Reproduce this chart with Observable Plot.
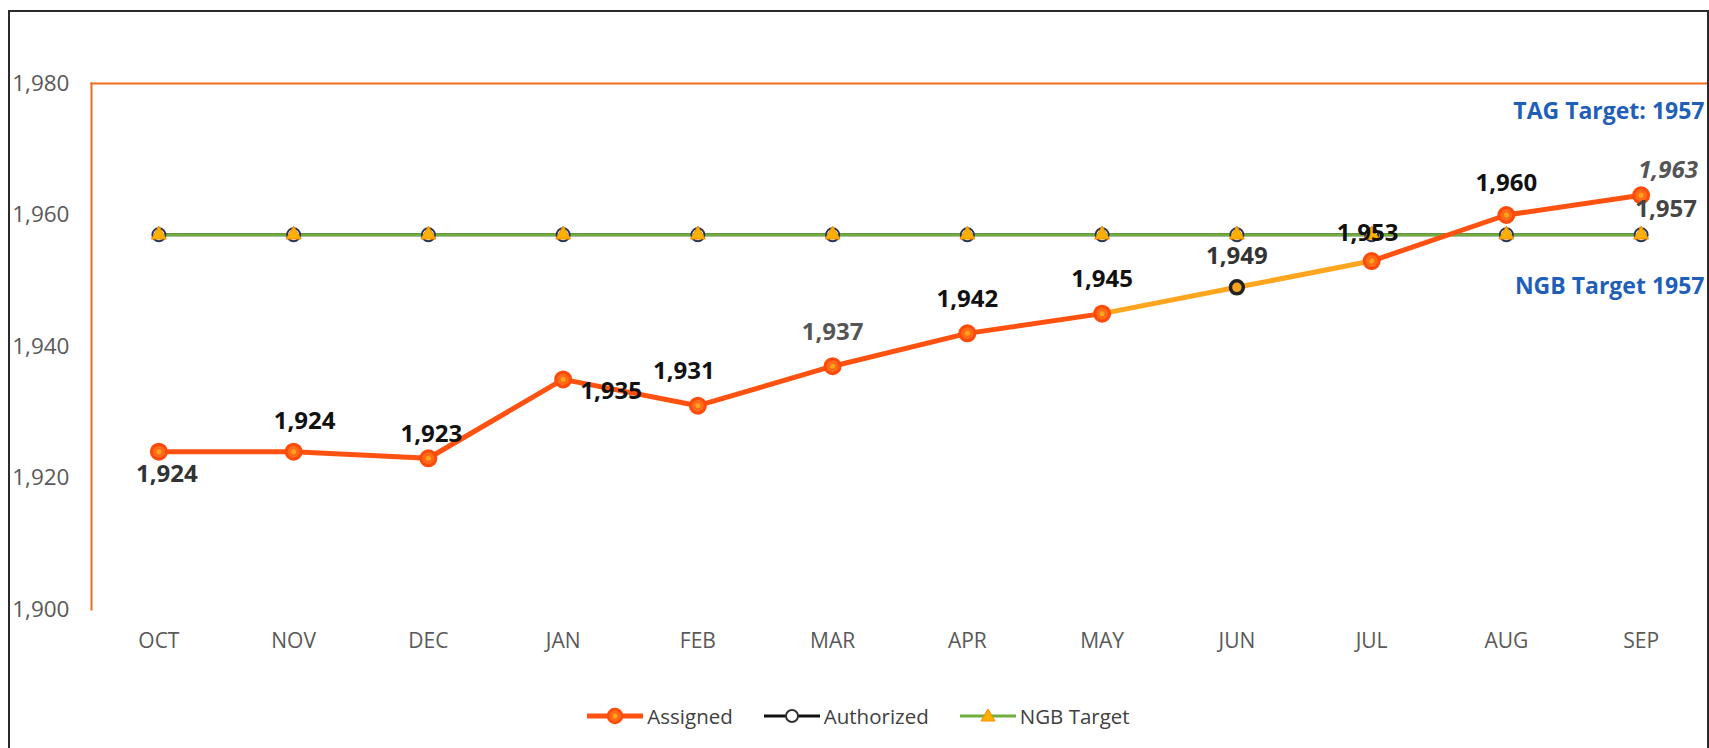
<!DOCTYPE html>
<html><head><meta charset="utf-8">
<script src="https://cdn.jsdelivr.net/npm/d3@7"></script>
<script src="https://cdn.jsdelivr.net/npm/@observablehq/plot@0.6"></script>
<style>
html,body{margin:0;padding:0;background:#fff;}
body{width:1709px;height:748px;position:relative;overflow:hidden;font-family:"Open Sans",sans-serif;}
#border{position:absolute;left:8px;top:10px;width:1697px;height:760px;border:2px solid #2b2b2b;border-bottom:none;pointer-events:none;}
#chart{position:absolute;left:0;top:0;}
#legend{position:absolute;left:0;top:690px;width:1709px;height:52px;display:flex;justify-content:center;align-items:center;gap:31px;font-size:20.5px;color:#404040;padding-left:8px;box-sizing:border-box;}
.item{display:flex;align-items:center;gap:4px;}
</style></head><body>
<div id="chart"></div><div id="legend"></div><div id="border"></div>
<script>
// ---- data ----
const months = ["OCT","NOV","DEC","JAN","FEB","MAR","APR","MAY","JUN","JUL","AUG","SEP"];
const assigned = [1924,1924,1923,1935,1931,1937,1942,1945,1949,1953,1960,1963];
const authorized = [1957,1957,1957,1957,1957,1957,1957,1957,1957,1957,1957,1957];
const ngbTarget = [1957,1957,1957,1957,1957,1957,1957,1957,1957,1957,1957,1957];
const yTicks = [1900,1920,1940,1960,1980];
const seriesNames = ["Assigned","Authorized","NGB Target"];
const notes = ["TAG Target: 1957","NGB Target 1957"];

// ---- styling / layout config ----
const C = {
  assigned:"#FF5210", assignedStroke:"#FF4A0A", assignedDot:"#FFA41B",
  amber:"#FFA51E", green:"#6FAD3E", tri:"#FFB000", triStroke:"#F08C00",
  frame:"#F26B1D", blue:"#1F5FB8"
};
const amberSegmentsEndAt = ["JUN","JUL"];
const labelOffsets = {OCT:[8,23],NOV:[11,-30],DEC:[3,-24],JAN:[48,12],FEB:[-14,-34],MAR:[0,-34],
  APR:[0,-34],MAY:[0,-34],JUN:[0,-31],JUL:[-4,-28],AUG:[0,-32],SEP:[27,-25]};
const labelColors = {OCT:"#333",MAR:"#555",JUN:"#333",SEP:"#555"};
const LF = 24;

const fmt = d3.format(",");
const rows = months.map((m,i)=>({month:m, assigned:assigned[i], authorized:authorized[i], ngb:ngbTarget[i]}));
const segs = months.slice(1).map((m,i)=>({x1:months[i], x2:m, y1:assigned[i], y2:assigned[i+1],
  amber: amberSegmentsEndAt.includes(m)}));

const labelMarks = rows.map(r => {
  const [dx,dy] = labelOffsets[r.month];
  return Plot.text([r], {x:"month", y:"assigned", text:d=>fmt(d.assigned), dx, dy,
    fill: labelColors[r.month] || "#111", fontWeight:"bold", fontSize:LF,
    fontStyle: r.month==="SEP" ? "italic" : "normal", lineAnchor:"middle"});
});
const last = rows[rows.length-1];

const chart = Plot.plot({
  width:1709, height:690, marginLeft:91, marginRight:1, marginTop:83, marginBottom:81,
  style:{fontFamily:"Open Sans", fontSize:"20px", color:"#595959", background:"transparent"},
  x:{type:"point", domain:months, padding:0.5, round:false},
  y:{domain:[1900,1980]},
  marks:[
    Plot.axisY({ticks:yTicks, tickSize:0, tickPadding:22, tickFormat:fmt, fontSize:22.5, fill:"#595959"}),
    Plot.axisX({tickSize:0, tickPadding:24, fontSize:21, fill:"#595959"}),
    Plot.frame({anchor:"top", stroke:C.frame, strokeWidth:2}),
    Plot.frame({anchor:"left", stroke:C.frame, strokeWidth:2}),
    Plot.frame({anchor:"right", stroke:C.frame, strokeWidth:2}),
    Plot.line(rows, {x:"month", y:"authorized", stroke:"#111", strokeWidth:3}),
    Plot.line(rows, {x:"month", y:"ngb", stroke:C.green, strokeWidth:3}),
    Plot.dot(rows, {x:"month", y:"authorized", r:6.5, fill:"white", stroke:"#2a3550", strokeWidth:2}),
    Plot.dot(rows, {x:"month", y:"ngb", symbol:"triangle", r:5.5, fill:C.tri, stroke:C.triStroke, strokeWidth:1}),
    Plot.link(segs, {x1:"x1", x2:"x2", y1:"y1", y2:"y2", stroke:d=>d.amber?C.amber:C.assigned, strokeWidth:5}),
    Plot.dot(rows.filter(r=>r.month!=="JUN"), {x:"month", y:"assigned", r:7.5, fill:"#FF6A1A", stroke:C.assignedStroke, strokeWidth:3}),
    Plot.dot(rows.filter(r=>r.month==="JUN"), {x:"month", y:"assigned", r:6.5, fill:"#F0A020", stroke:"#222", strokeWidth:3.5}),
    Plot.dot(rows, {x:"month", y:"assigned", r:2.5, fill:C.assignedDot}),
    ...labelMarks,
    Plot.text([last], {x:"month", y:"authorized", text:d=>fmt(d.authorized), dx:25, dy:-25,
      fill:"#444", fontWeight:"bold", fontSize:LF, lineAnchor:"middle"}),
    Plot.text([notes[0]], {frameAnchor:"top-right", textAnchor:"end", lineAnchor:"middle", dx:-4, dy:28,
      fill:C.blue, fontWeight:"bold", fontSize:23}),
    Plot.text([{label:notes[1], value:last.ngb}], {y:"value", text:"label", frameAnchor:"right", textAnchor:"end",
      lineAnchor:"middle", dx:-4, dy:52, fill:C.blue, fontWeight:"bold", fontSize:23})
  ]
});
document.getElementById("chart").append(chart);

// ---- legend ----
const sw = {
  "Assigned": `<svg width="56" height="22"><line x1="0" y1="11" x2="56" y2="11" stroke="${C.assigned}" stroke-width="5"/><circle cx="28" cy="11" r="7" fill="#FF6A1A" stroke="${C.assignedStroke}" stroke-width="2.5"/><circle cx="28" cy="11" r="2.5" fill="${C.assignedDot}"/></svg>`,
  "Authorized": `<svg width="56" height="22"><line x1="0" y1="11" x2="56" y2="11" stroke="#111" stroke-width="3"/><circle cx="28" cy="11" r="6" fill="white" stroke="#333" stroke-width="2"/></svg>`,
  "NGB Target": `<svg width="56" height="22"><line x1="0" y1="11" x2="56" y2="11" stroke="${C.green}" stroke-width="3"/><polygon points="28,4 35,16 21,16" fill="${C.tri}" stroke="${C.triStroke}" stroke-width="1"/></svg>`
};
document.getElementById("legend").innerHTML = seriesNames.map(n=>`<div class="item">${sw[n]}<span>${n}</span></div>`).join("");
</script>
</body></html>
